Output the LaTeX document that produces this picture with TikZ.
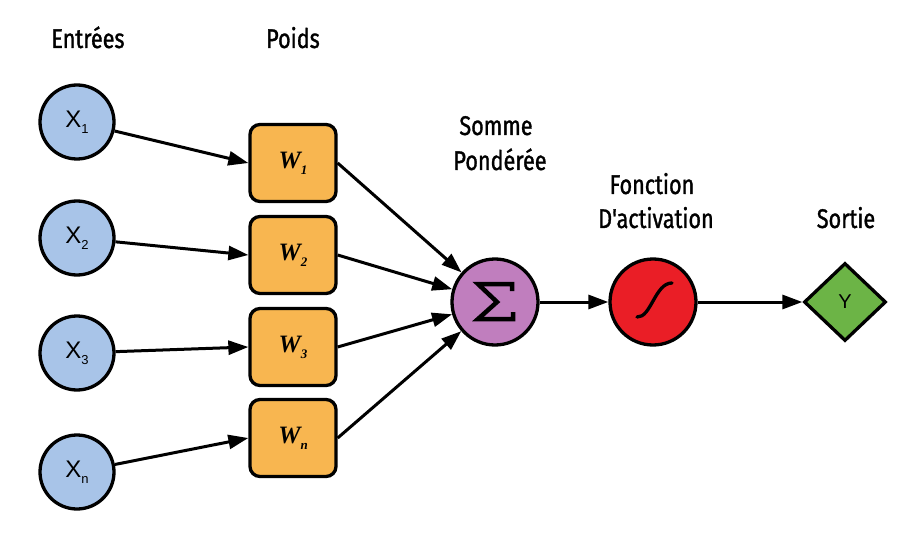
\documentclass[tikz,border=0pt]{standalone}
\usepackage{fontspec}
\setmainfont{Fira Sans}
\newfontfamily\labfont{Fira Sans}[FakeStretch=0.8,FakeBold=1.2]
\newfontfamily\arialfont{Liberation Sans}
\newfontfamily\timesfont{Liberation Serif}
\usetikzlibrary{arrows.meta,shapes.geometric}
\definecolor{inblue}{RGB}{168,196,232}
\definecolor{worange}{RGB}{248,182,80}
\definecolor{sumpurple}{RGB}{192,126,190}
\definecolor{actred}{RGB}{234,30,38}
\definecolor{outgreen}{RGB}{108,180,70}
\newcommand{\xlab}[1]{{\arialfont\fontsize{24}{24}\selectfont X\raisebox{-6pt}{\fontsize{13}{13}\selectfont #1}}}
\newcommand{\wlab}[1]{{\timesfont\bfseries\itshape\fontsize{25}{25}\selectfont W\raisebox{-6pt}{\fontsize{13}{13}\selectfont #1}}}
\begin{document}
\begin{tikzpicture}[x=1pt,y=-1pt,
  inputnode/.style={circle, draw=black, line width=3.3pt, fill=inblue, minimum size=74pt, inner sep=0pt},
  wbox/.style={rectangle, rounded corners=10pt, draw=black, line width=3.3pt, fill=worange, minimum width=86pt, minimum height=77pt, inner sep=0pt},
  bigcirc/.style={circle, draw=black, line width=3.3pt, minimum size=86pt, inner sep=0pt},
  outnode/.style={diamond, draw=black, line width=3.3pt, fill=outgreen, minimum width=82pt, minimum height=78pt, inner sep=0pt},
  title/.style={font=\labfont\fontsize{27}{27}\selectfont, anchor=base, inner sep=0pt},
  conn/.style={line width=3pt, -{Triangle[length=20pt,width=14pt]}},
  glyph/.style={line width=4.5pt, draw=black}
]
\useasboundingbox (0,0) rectangle (918,548);
\fill[white] (0,0) rectangle (918,548);

% titles
\node[title] (tin) at (88,48) {Entrées};
\node[title] (tw) at (293,48) {Poids};
\node[title] (ts1) at (496,135) {Somme};
\node[title] (ts2) at (500,170) {Pondérée};
\node[title] (ta1) at (652,194) {Fonction};
\node[title] (ta2) at (656,228) {D'activation};
\node[title] (to) at (846,228) {Sortie};

% inputs
\node[inputnode] (x1) at (77,122) {\xlab{1}};
\node[inputnode] (x2) at (77,238) {\xlab{2}};
\node[inputnode] (x3) at (77,353) {\xlab{3}};
\node[inputnode] (xn) at (77,472) {\xlab{n}};

% weights
\node[wbox] (w1) at (293,163) {\wlab{1}};
\node[wbox] (w2) at (293,255) {\wlab{2}};
\node[wbox] (w3) at (293,347) {\wlab{3}};
\node[wbox] (wn) at (293,438) {\wlab{n}};

% sum, activation, output
\node[bigcirc, fill=sumpurple] (sum) at (495,302) {};
\node[bigcirc, fill=actred] (act) at (653,302) {};
\node[outnode] (out) at (845,302) {\arialfont\fontsize{20}{20}\selectfont Y};

% sigma glyph
\draw[glyph, miter limit=4]
  ([shift={(17,-11)}]sum.center) -- ([shift={(17,-18)}]sum.center)
  -- ([shift={(-17,-18)}]sum.center) -- ([shift={(2,0)}]sum.center)
  -- ([shift={(-17,17)}]sum.center) -- ([shift={(18,17)}]sum.center)
  -- ([shift={(18,10)}]sum.center);

% sigmoid glyph
\draw[line width=3.3pt, line cap=round]
  ([shift={(-16,15)}]act.center) .. controls ([shift={(-2,16)}]act.center) and ([shift={(2,-19)}]act.center) .. ([shift={(19,-19)}]act.center);

% connectors
\draw[conn] (x1) -- (w1.west);
\draw[conn] (x2) -- (w2.west);
\draw[conn] (x3) -- (w3.west);
\draw[conn] (xn) -- (wn.west);
\draw[conn] (w1.east) -- (sum);
\draw[conn] (w2.east) -- (sum);
\draw[conn] (w3.east) -- (sum);
\draw[conn] (wn.east) -- (sum);
\draw[conn] (sum) -- (act);
\draw[conn] (act) -- (out);
\end{tikzpicture}
\end{document}
